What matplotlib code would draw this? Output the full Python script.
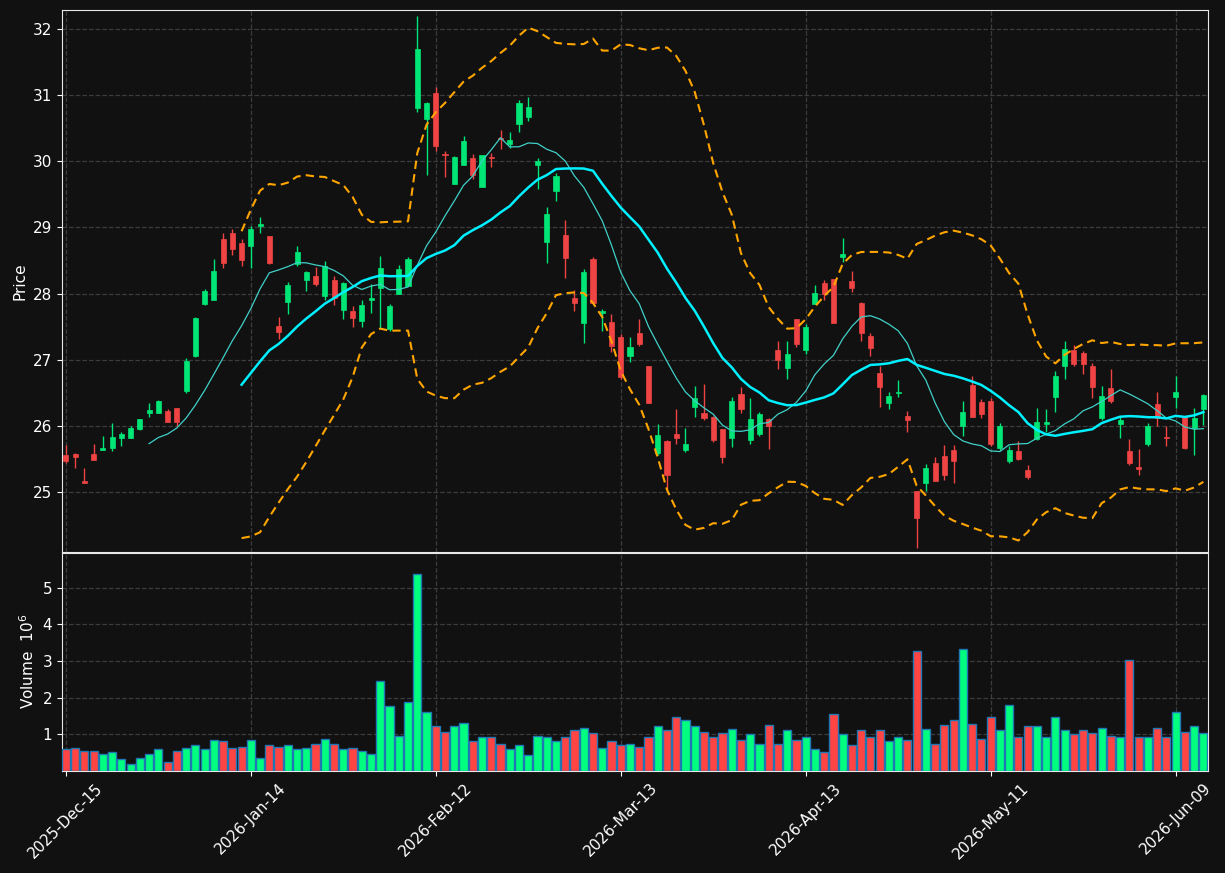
import numpy as np
import pandas as pd
import matplotlib
matplotlib.use("Agg")
import matplotlib.pyplot as plt

opens = [25.56, 25.57, 25.17, 25.57, 25.64, 25.67, 25.82, 25.82, 25.95, 26.20,
         26.20, 26.22, 26.27, 26.53, 27.06, 27.84, 27.90, 28.82, 28.92, 28.77,
         28.72, 29.03, 28.87, 27.51, 27.88, 28.44, 28.21, 28.27, 27.97, 28.21,
         27.75, 27.74, 27.58, 27.91, 28.09, 27.46, 27.99, 28.11, 30.81, 30.64,
         31.03, 30.10, 29.66, 29.95, 30.05, 29.62, 30.07, 30.36, 30.27, 30.57,
         30.67, 29.95, 28.78, 29.55, 28.89, 27.93, 27.55, 28.53, 27.70, 27.57,
         27.34, 27.05, 27.41, 26.90, 25.59, 25.77, 25.88, 25.64, 26.29, 26.19,
         26.13, 25.95, 25.82, 26.48, 25.78, 25.87, 26.10, 27.15, 26.88, 27.62,
         27.15, 27.84, 28.16, 28.22, 28.56, 28.19, 27.86, 27.36, 26.80, 26.35,
         26.49, 26.15, 25.02, 25.14, 25.44, 25.55, 25.63, 26.00, 26.62, 26.36,
         26.38, 25.66, 25.46, 25.62, 25.33, 25.80, 26.03, 26.44, 26.91, 27.15,
         27.10, 26.91, 26.11, 26.57, 26.03, 25.62, 25.38, 25.73, 26.33, 25.83,
         26.44, 26.13, 25.96, 26.25]
highs = [25.71, 25.59, 25.36, 25.72, 25.85, 26.04, 25.90, 25.99, 26.10, 26.35,
         26.39, 26.25, 26.27, 27.02, 27.65, 28.07, 28.52, 28.91, 28.97, 28.82,
         29.03, 29.16, 28.87, 27.64, 28.17, 28.72, 28.34, 28.40, 28.50, 28.27,
         28.17, 27.81, 27.90, 28.14, 28.57, 27.84, 28.43, 28.56, 32.20, 30.90,
         31.13, 30.15, 30.08, 30.38, 30.11, 30.10, 30.13, 30.47, 30.44, 30.93,
         30.97, 30.05, 29.31, 29.83, 29.11, 28.05, 28.37, 28.56, 27.77, 27.69,
         27.39, 27.34, 27.61, 26.90, 26.02, 25.79, 26.25, 25.96, 26.60, 26.63,
         26.15, 25.95, 26.44, 26.58, 26.42, 26.21, 26.11, 27.28, 27.28, 27.62,
         27.54, 28.13, 28.21, 28.22, 28.84, 28.34, 27.88, 27.41, 26.91, 26.51,
         26.69, 26.22, 25.02, 25.42, 25.52, 25.71, 25.71, 26.37, 26.76, 26.41,
         26.42, 26.04, 25.70, 25.77, 25.40, 26.27, 26.25, 26.83, 27.28, 27.22,
         27.13, 26.95, 26.60, 26.86, 26.14, 25.80, 25.65, 26.04, 26.51, 26.00,
         26.75, 26.15, 26.27, 26.48]
lows = [25.44, 25.36, 25.14, 25.48, 25.64, 25.62, 25.70, 25.82, 25.93, 26.14,
        26.20, 26.06, 25.99, 26.50, 27.04, 27.82, 27.90, 28.38, 28.59, 28.42,
        28.38, 28.91, 28.45, 27.32, 27.69, 28.41, 28.04, 28.12, 27.91, 27.83,
        27.61, 27.50, 27.49, 27.70, 27.47, 27.44, 27.99, 28.11, 30.75, 29.80,
        30.16, 29.76, 29.66, 29.95, 29.73, 29.62, 29.92, 30.18, 30.20, 30.44,
        30.61, 29.58, 28.46, 29.40, 28.23, 27.73, 27.25, 27.85, 27.43, 27.12,
        26.70, 26.96, 27.20, 26.34, 25.56, 25.03, 25.72, 25.61, 26.13, 26.09,
        25.76, 25.43, 25.68, 26.20, 25.73, 25.85, 25.65, 26.86, 26.70, 27.19,
        27.09, 27.84, 27.90, 27.56, 28.48, 28.03, 27.29, 27.05, 26.28, 26.25,
        26.44, 25.91, 24.15, 25.01, 25.16, 25.18, 25.14, 25.84, 26.13, 26.12,
        25.70, 25.63, 25.43, 25.48, 25.19, 25.79, 25.91, 26.21, 26.70, 26.91,
        26.79, 26.42, 26.09, 26.35, 25.81, 25.41, 25.25, 25.70, 25.99, 25.70,
        26.27, 25.65, 25.56, 26.01]
closes = [25.46, 25.53, 25.14, 25.48, 25.67, 25.83, 25.88, 25.97, 26.10, 26.24,
          26.38, 26.06, 26.05, 26.98, 27.63, 28.04, 28.34, 28.47, 28.67, 28.51,
          28.98, 29.05, 28.47, 27.42, 28.13, 28.63, 28.32, 28.15, 28.42, 27.93,
          28.16, 27.63, 27.83, 27.94, 28.39, 27.81, 28.37, 28.52, 31.70, 30.88,
          30.24, 30.09, 30.07, 30.31, 29.80, 30.10, 30.05, 30.34, 30.32, 30.89,
          30.82, 30.00, 29.21, 29.78, 28.54, 27.85, 28.33, 27.85, 27.74, 27.20,
          26.74, 27.19, 27.24, 26.34, 25.86, 25.26, 25.81, 25.73, 26.42, 26.12,
          25.78, 25.53, 26.38, 26.26, 26.10, 26.18, 25.99, 27.00, 27.09, 27.24,
          27.49, 28.01, 27.99, 27.56, 28.60, 28.08, 27.41, 27.18, 26.59, 26.45,
          26.51, 26.09, 24.61, 25.36, 25.17, 25.25, 25.46, 26.21, 26.14, 26.18,
          25.72, 26.00, 25.64, 25.49, 25.22, 26.06, 26.06, 26.76, 27.16, 26.94,
          26.94, 26.59, 26.45, 26.38, 26.09, 25.43, 25.34, 26.00, 26.12, 25.82,
          26.51, 25.67, 26.12, 26.46]
volumes_m = [0.58, 0.61, 0.55, 0.55, 0.47, 0.50, 0.31, 0.17, 0.36, 0.47,
             0.58, 0.25, 0.55, 0.61, 0.69, 0.58, 0.83, 0.80, 0.63, 0.66,
             0.85, 0.36, 0.69, 0.66, 0.69, 0.58, 0.63, 0.72, 0.88, 0.74,
             0.58, 0.61, 0.55, 0.47, 2.46, 1.78, 0.96, 1.89, 5.39, 1.61,
             1.21, 1.07, 1.23, 1.31, 0.80, 0.91, 0.91, 0.74, 0.58, 0.69,
             0.44, 0.96, 0.93, 0.80, 0.93, 1.12, 1.18, 1.02, 0.61, 0.80,
             0.69, 0.74, 0.66, 0.93, 1.21, 1.10, 1.48, 1.40, 1.21, 1.07,
             0.93, 1.02, 1.15, 0.85, 0.99, 0.72, 1.26, 0.72, 1.10, 0.83,
             0.93, 0.58, 0.50, 1.56, 0.99, 0.69, 1.10, 0.91, 1.10, 0.80,
             0.93, 0.85, 3.27, 1.15, 0.72, 1.26, 1.40, 3.33, 1.29, 0.88,
             1.48, 1.12, 1.80, 0.91, 1.21, 1.21, 0.93, 1.48, 1.10, 0.99,
             1.10, 1.02, 1.18, 0.96, 0.93, 3.03, 0.91, 0.93, 1.18, 0.91,
             1.61, 1.07, 1.21, 1.02]
tick_labels = ['2025-Dec-15', '2026-Jan-14', '2026-Feb-12', '2026-Mar-13',
               '2026-Apr-13', '2026-May-11', '2026-Jun-09']

BG = '#111111'
UP, DOWN = '#00e676', '#f04444'
VUP, VDOWN = '#00ff80', '#ff4444'
GRID = '#3c3c3c'

o = np.array(opens); h = np.array(highs); l = np.array(lows); c = np.array(closes)
v = np.array(volumes_m)
n = len(c)
x = np.arange(n)
up = c >= o

s = pd.Series(c)
ma10 = s.rolling(10).mean()
ma20 = s.rolling(20).mean()
sd20 = s.rolling(20).std(ddof=0)
bb_up = ma20 + 2 * sd20
bb_lo = ma20 - 2 * sd20

fig = plt.figure(figsize=(12.25, 8.73), dpi=100, facecolor=BG)
ax = fig.add_axes([0.0506, 0.3677, 0.9355, 0.6208], facecolor=BG)
axv = fig.add_axes([0.0506, 0.1172, 0.9355, 0.2494], facecolor=BG, sharex=ax)

# candles
cols = np.where(up, UP, DOWN)
ax.vlines(x, l, h, colors=cols, linewidth=1.0, zorder=2)
bottoms = np.minimum(o, c)
heights = np.maximum(np.abs(c - o), 0.015)
ax.bar(x, heights, bottom=bottoms, width=0.55, color=cols, edgecolor=cols,
       linewidth=0.5, zorder=3)

ax.plot(x, ma10, color='#40d0c8', linewidth=0.9, zorder=4)
ax.plot(x, ma20, color='#00f0ff', linewidth=1.8, zorder=4)
ax.plot(x, bb_up, color='#ffa500', linewidth=1.5, linestyle=(0, (4, 2.5)), zorder=4)
ax.plot(x, bb_lo, color='#ffa500', linewidth=1.5, linestyle=(0, (4, 2.5)), zorder=4)

# volume
vcols = np.where(up, VUP, VDOWN)
axv.bar(x, v, width=0.88, color=vcols, edgecolor='#1f77b4', linewidth=1.0, zorder=3)

ax.set_xlim(-0.42, n - 0.5)
ax.set_ylim(24.09, 32.29)
axv.set_ylim(0, v.max() * 1.105)

ticks = np.arange(0, n, 20)
axv.set_xticks(ticks)
axv.set_xticklabels(tick_labels, rotation=45, ha='center')
ax.tick_params(axis='x', labelbottom=False, length=0)
axv.set_yticks([1, 2, 3, 4, 5])
ax.set_yticks(range(25, 33))

for a in (ax, axv):
    a.grid(True, color=GRID, linestyle='--', linewidth=0.9)
    a.set_axisbelow(True)
    for sp in a.spines.values():
        sp.set_color('#e8e8e8')
    a.tick_params(colors='white', labelsize=11)

ax.set_ylabel('Price', color='white', fontsize=11)
axv.set_ylabel('Volume  $10^{6}$', color='white', fontsize=11)

fig.savefig('out.png', dpi=100, facecolor=BG)
